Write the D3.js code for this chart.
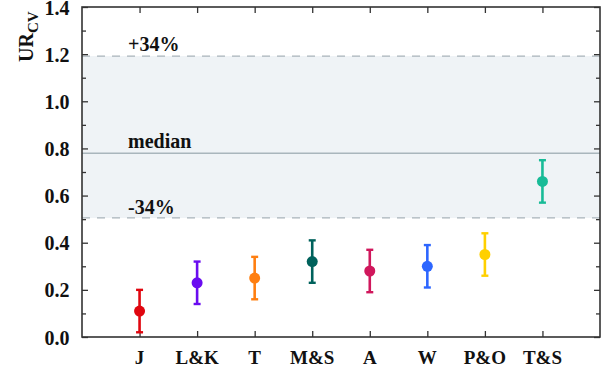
<!DOCTYPE html>
<html><head><meta charset="utf-8">
<script src="https://cdn.jsdelivr.net/npm/d3@7"></script>
<style>body{margin:0;background:#fff}svg{display:block}</style>
</head><body><svg id="c" width="608" height="374"></svg>
<script>
const categories = ["J","L&K","T","M&S","A","W","P&O","T&S"];
const values = [0.11,0.23,0.25,0.32,0.28,0.30,0.35,0.66];
const errLow = [0.02,0.14,0.16,0.23,0.19,0.21,0.26,0.57];
const errHigh = [0.20,0.32,0.34,0.41,0.37,0.39,0.44,0.75];
const colors = ["#e0060f","#6a0cf0","#ff7f10","#00625c","#d0175c","#2d66ff","#ffd000","#18bb97"];
const yTicks = [0.0,0.2,0.4,0.6,0.8,1.0,1.2,1.4];
const median = 0.78, bandLow = 0.505, bandHigh = 1.192;
const refLabels = ["+34%","median","-34%"];

const svg = d3.select("#c");
const L=82,R=600,T=7,B=337;
const x = d3.scaleLinear().domain([0,categories.length+1]).range([L,R]);
const y = d3.scaleLinear().domain([0,1.4]).range([B,T]);
const font = "Liberation Serif";

svg.append("rect").attr("x",L).attr("y",y(bandHigh)).attr("width",R-L).attr("height",y(bandLow)-y(bandHigh)).attr("fill","#eff3f6");
[bandHigh,bandLow].forEach(v=>svg.append("line").attr("x1",L).attr("x2",R).attr("y1",y(v)).attr("y2",y(v))
  .attr("stroke","#a9b4ba").attr("stroke-width",1.3).attr("stroke-dasharray","8,7"));
svg.append("line").attr("x1",L).attr("x2",R).attr("y1",y(median)).attr("y2",y(median)).attr("stroke","#a9b6bc").attr("stroke-width",1.5);

const lblY = [y(bandHigh)-5, y(median)-5, y(bandLow)-3.5];
refLabels.forEach((t,i)=>svg.append("text").attr("x",128).attr("y",lblY[i]).text(t)
  .style("font-family",font).style("font-weight","bold").attr("font-size",20).attr("fill","#111"));

const ax = d3.axisLeft(y).tickValues(d3.range(0,1.41,0.1)).tickSize(-6).tickFormat("");
const gL = svg.append("g").attr("transform",`translate(${L},0)`).call(ax);
gL.selectAll(".tick line").attr("x2",d=>Math.round(d*10)%2===0?6:4);
const gR = svg.append("g").attr("transform",`translate(${R},0)`).call(d3.axisRight(y).tickValues(d3.range(0,1.41,0.1)).tickSize(-6).tickFormat(""));
gR.selectAll(".tick line").attr("x2",d=>Math.round(d*10)%2===0?-6:-4);
const cx = d3.range(1,categories.length+1);
svg.append("g").attr("transform",`translate(0,${B})`).call(d3.axisBottom(x).tickValues(cx).tickSize(-6).tickFormat(""));
svg.append("g").attr("transform",`translate(0,${T})`).call(d3.axisTop(x).tickValues(cx).tickSize(-6).tickFormat(""));
svg.selectAll(".domain").remove();
svg.selectAll(".tick line").attr("stroke","#333").attr("stroke-width",1.3);
svg.append("rect").attr("x",L).attr("y",T).attr("width",R-L).attr("height",B-T).attr("fill","none").attr("stroke","#333").attr("stroke-width",1.6);

yTicks.forEach(v=>svg.append("text").attr("x",69.5).attr("y",y(v)+7.5).attr("text-anchor","end").text(v.toFixed(1))
  .style("font-family",font).style("font-weight","bold").attr("font-size",20).attr("fill","#111"));
categories.forEach((c,i)=>svg.append("text").attr("x",x(i+1)).attr("y",364).attr("text-anchor","middle").text(c)
  .style("font-family",font).style("font-weight","bold").attr("font-size",19).attr("fill","#111"));

const yl = svg.append("text").attr("transform","translate(33,62) rotate(-90)").style("font-family",font).style("font-weight","bold").attr("font-size",20).attr("fill","#111");
yl.append("tspan").text("UR");
yl.append("tspan").text("CV").attr("font-size",15).attr("dy",5);

categories.forEach((c,i)=>{
  const g = svg.append("g").attr("stroke",colors[i]).attr("fill",colors[i]);
  const px = x(i+1);
  g.append("line").attr("x1",px).attr("x2",px).attr("y1",y(errLow[i])).attr("y2",y(errHigh[i])).attr("stroke-width",2.6);
  [errLow[i],errHigh[i]].forEach(v=>g.append("line").attr("x1",px-3.5).attr("x2",px+3.5).attr("y1",y(v)).attr("y2",y(v)).attr("stroke-width",2.4));
  g.append("circle").attr("cx",px).attr("cy",y(values[i])).attr("r",5.5).attr("stroke","none");
});
</script></body></html>
